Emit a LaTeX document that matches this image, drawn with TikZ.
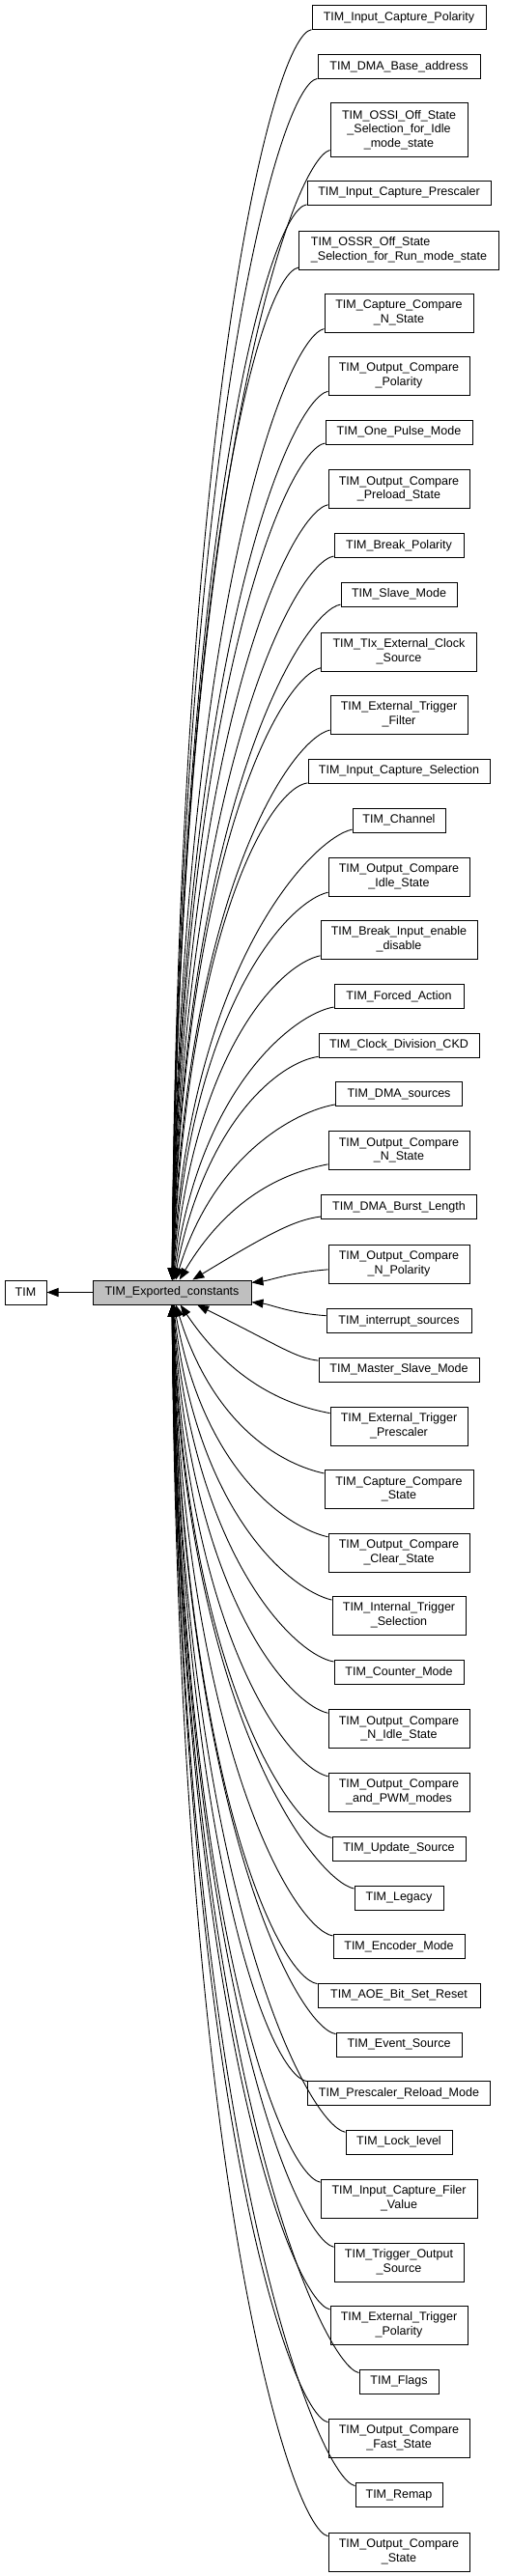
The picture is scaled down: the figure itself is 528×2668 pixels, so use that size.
\documentclass[tikz,border=0pt]{standalone}
\usepackage{fontspec}
\setmainfont{Liberation Sans}
\usetikzlibrary{arrows.meta}
\definecolor{hdr}{RGB}{191,191,191}
\def\Ex{178}
\def\Ey{-1338.5}
\newcommand\conn[4]{% name, cy, w, h
  \pgfmathsetmacro\cl{413-#3/2}%
  \pgfmathsetmacro\cdy{#2-(\Ey)}%
  \pgfmathsetmacro\cady{abs(\cdy)}%
  \pgfmathsetmacro\csg{\cdy/\cady}%
  \pgfmathsetmacro\ca{min(120,9000/\cady)}%
  \pgfmathsetmacro\cb{0.7*\cady}%
  \pgfmathsetmacro\cp{min(40,0.3*\cady)}%
  \pgfmathsetmacro\cq{min(#4/2+5,0.15*\cady)}%
  \draw[edge] (#1) .. controls ({\cl-\cp},{#2-(\csg)*\cq}) and ({\Ex+\ca},{\Ey+(\csg)*\cb}) .. (E);%
}
\newcommand\bxn[6][]{%
  \node[box,minimum width=#4pt,minimum height=#5pt,#1] (#2) at (413,#3) {#6};}
\newcommand\bx[6][]{%
  \bxn[#1]{#2}{#3}{#4}{#5}{#6}\conn{#2}{#3}{#4}{#5}}
\begin{document}
\begin{tikzpicture}[x=1pt,y=1pt,
  box/.style={draw=black, line width=1pt, fill=white, inner sep=1pt, align=center,
    font=\fontsize{12.5}{14.7}\selectfont, text=black},
  edge/.style={draw=black, line width=0.9pt, -{Triangle[length=12pt,width=9pt]}}]
\useasboundingbox (0,0) rectangle (528,-2668);
\node[box, fill=hdr, minimum width=164pt, minimum height=25pt] (E) at (\Ex,\Ey) {TIM\_Exported\_constants};
\node[box, minimum width=43pt, minimum height=25pt] (TIM) at (26.5,\Ey) {TIM};
\draw[edge] (E) -- (TIM);
\bx{n1}{-18.5}{180}{25}{TIM\_Input\_Capture\_Polarity}
\bx{n2}{-69.5}{168}{25}{TIM\_DMA\_Base\_address}
\bx{n3}{-134.5}{142}{55}{TIM\_OSSI\_Off\_State\\\_Selection\_for\_Idle\\\_mode\_state}
\bx{n4}{-199.5}{190}{25}{TIM\_Input\_Capture\_Prescaler}
\bx[align=left]{n5}{-259}{207}{40}{TIM\_OSSR\_Off\_State\\\_Selection\_for\_Run\_mode\_state}
\bx{n6}{-324}{154}{40}{TIM\_Capture\_Compare\\\_N\_State}
\bx{n7}{-389}{146}{40}{TIM\_Output\_Compare\\\_Polarity}
\bx{n8}{-447.5}{152}{25}{TIM\_One\_Pulse\_Mode}
\bx{n9}{-506.5}{146}{40}{TIM\_Output\_Compare\\\_Preload\_State}
\bx{n10}{-565}{134}{25}{TIM\_Break\_Polarity}
\bx{n11}{-615.5}{120}{25}{TIM\_Slave\_Mode}
\bx{n12}{-675}{161}{40}{TIM\_TIx\_External\_Clock\\\_Source}
\bx{n13}{-740}{142}{40}{TIM\_External\_Trigger\\\_Filter}
\bx{n14}{-798.5}{188}{25}{TIM\_Input\_Capture\_Selection}
\bx{n15}{-849.5}{96}{25}{TIM\_Channel}
\bx{n16}{-908}{146}{40}{TIM\_Output\_Compare\\\_Idle\_State}
\bx{n17}{-973}{162}{40}{TIM\_Break\_Input\_enable\\\_disable}
\bx{n18}{-1032}{134}{25}{TIM\_Forced\_Action}
\bx{n19}{-1082.5}{166}{25}{TIM\_Clock\_Division\_CKD}
\bx{n20}{-1133}{131}{25}{TIM\_DMA\_sources}
\bx{n21}{-1191.5}{146}{40}{TIM\_Output\_Compare\\\_N\_State}
\bx{n22}{-1250}{161}{25}{TIM\_DMA\_Burst\_Length}
\bxn{n23}{-1309}{146}{40}{TIM\_Output\_Compare\\\_N\_Polarity}
\draw[edge] (n23) .. controls (300,-1318) and (280,-1326) .. (E);
\bxn{n24}{-1368}{150}{25}{TIM\_interrupt\_sources}
\draw[edge] (n24) .. controls (300,-1360) and (280,-1351) .. (E);
\bx{n25}{-1418.5}{166}{25}{TIM\_Master\_Slave\_Mode}
\bx{n26}{-1477}{142}{40}{TIM\_External\_Trigger\\\_Prescaler}
\bx{n27}{-1542.5}{154}{40}{TIM\_Capture\_Compare\\\_State}
\bx{n28}{-1608}{146}{40}{TIM\_Output\_Compare\\\_Clear\_State}
\bx{n29}{-1673}{138}{40}{TIM\_Internal\_Trigger\\\_Selection}
\bx{n30}{-1732}{134}{25}{TIM\_Counter\_Mode}
\bx{n31}{-1790.5}{146}{40}{TIM\_Output\_Compare\\\_N\_Idle\_State}
\bx{n32}{-1856}{146}{40}{TIM\_Output\_Compare\\\_and\_PWM\_modes}
\bx{n33}{-1914.5}{138}{25}{TIM\_Update\_Source}
\bx{n34}{-1965.5}{92}{25}{TIM\_Legacy}
\bx{n35}{-2016}{136}{25}{TIM\_Encoder\_Mode}
\bx{n36}{-2066.5}{168}{25}{TIM\_AOE\_Bit\_Set\_Reset}
\bx{n37}{-2117.5}{130}{25}{TIM\_Event\_Source}
\bx{n38}{-2168}{189}{25}{TIM\_Prescaler\_Reload\_Mode}
\bx{n39}{-2218.5}{110}{25}{TIM\_Lock\_level}
\bx{n40}{-2277}{162}{40}{TIM\_Input\_Capture\_Filer\\\_Value}
\bx{n41}{-2343}{134}{40}{TIM\_Trigger\_Output\\\_Source}
\bx{n42}{-2408}{142}{40}{TIM\_External\_Trigger\\\_Polarity}
\bx{n43}{-2466.5}{82}{25}{TIM\_Flags}
\bx{n44}{-2525}{146}{40}{TIM\_Output\_Compare\\\_Fast\_State}
\bx{n45}{-2584}{90}{25}{TIM\_Remap}
\bx{n46}{-2643}{146}{40}{TIM\_Output\_Compare\\\_State}
\end{tikzpicture}
\end{document}
